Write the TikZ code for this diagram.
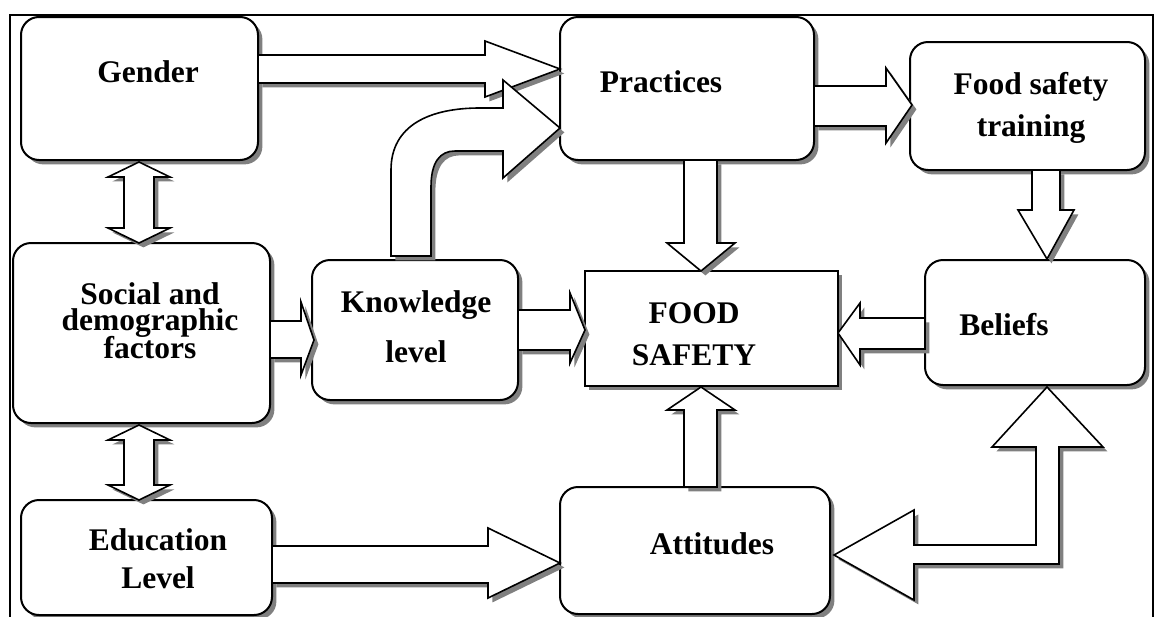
\documentclass[tikz,border=0pt]{standalone}
\usepackage{fontspec}
\setmainfont{Liberation Serif}
\usetikzlibrary{shadows,fit}
\begin{document}
\begin{tikzpicture}[x=0.5pt,y=-0.5pt,
  shadowed/.style={drop shadow={shadow xshift=2.2pt,shadow yshift=-2.2pt,fill=black!50,opacity=1}},
  box/.style={draw=black,line width=1pt,fill=white,rounded corners=9pt,inner sep=0pt,outer sep=0pt,shadowed},
  sqbox/.style={draw=black,line width=1pt,fill=white,inner sep=0pt,outer sep=0pt,shadowed},
  blockarrow/.style={draw=black,line width=0.8pt,fill=white,line join=miter,shadowed},
  txt/.style={font=\fontsize{15.75}{18}\selectfont\bfseries,anchor=base,inner sep=0pt},
  frame/.style={draw=black,line width=1pt}]
\path[use as bounding box] (0,0) rectangle (1155,616);
% outer frame
\draw[frame] (10,620) -- (10,15) -- (1153,15) -- (1153,620);
% boxes
\node[box,fit={(21,17) (258,160)}] (gender) {};
\node[box,fit={(560,17) (814,160)}] (practices) {};
\node[box,fit={(910,42) (1145,170)}] (training) {};
\node[box,fit={(13,243) (270,423)}] (social) {};
\node[box,fit={(312,260) (518,400)}] (knowledge) {};
\node[sqbox,fit={(585,271) (838,386)}] (food) {};
\node[box,fit={(925,260) (1145,385)}] (beliefs) {};
\node[box,fit={(21,500) (272,615)}] (education) {};
\node[box,fit={(560,487) (830,614)}] (attitudes) {};
% texts
\node[txt] (tGender) at (148,82) {Gender};
\node[txt] (tPractices) at (661,92) {Practices};
\node[txt] (tTraining1) at (1031,94) {Food safety};
\node[txt] (tTraining2) at (1031,136) {training};
\node[txt] (tSocial1) at (150,304) {Social and};
\node[txt] (tSocial2) at (150,330) {demographic};
\node[txt] (tSocial3) at (150,358) {factors};
\node[txt] (tKnow1) at (416,312) {Knowledge};
\node[txt] (tKnow2) at (416,362) {level};
\node[txt] (tFood1) at (694,323) {FOOD};
\node[txt] (tFood2) at (694,365) {SAFETY};
\node[txt] (tBeliefs) at (1004,335) {Beliefs};
\node[txt] (tEdu1) at (158,550) {Education};
\node[txt] (tEdu2) at (158,588) {Level};
\node[txt] (tAtt) at (712,554) {Attitudes};
% block arrows
\filldraw[blockarrow] (258,55) -- (485,55) -- (485,41) -- (560,69) -- (485,97) -- (485,83) -- (258,83) -- cycle;
\filldraw[blockarrow] (814,86) -- (886,86) -- (886,68) -- (912,105) -- (886,143) -- (886,126) -- (814,126) -- cycle;
\filldraw[blockarrow] (270,321) -- (301,321) -- (301,302) -- (314,340) -- (301,375) -- (301,358) -- (270,358) -- cycle;
\filldraw[blockarrow] (518,310) -- (570,310) -- (570,293) -- (585,330) -- (570,363) -- (570,350) -- (518,350) -- cycle;
\filldraw[blockarrow] (925,318) -- (860,318) -- (860,303) -- (838,333) -- (860,365) -- (860,349) -- (925,349) -- cycle;
\filldraw[blockarrow] (272,546) -- (488,546) -- (488,528) -- (560,563) -- (488,598) -- (488,583) -- (272,583) -- cycle;
\filldraw[blockarrow] (684,160) -- (684,243) -- (667,243) -- (701,271) -- (735,243) -- (717,243) -- (717,160) -- cycle;
\filldraw[blockarrow] (1032,170) -- (1032,210) -- (1018,210) -- (1047,259) -- (1074,210) -- (1060,210) -- (1060,170) -- cycle;
\filldraw[blockarrow] (684,487) -- (684,410) -- (667,410) -- (701,387) -- (735,410) -- (717,410) -- (717,487) -- cycle;
\filldraw[blockarrow] (139,162) -- (170,177) -- (154,177) -- (154,228) -- (170,228) -- (139,243) -- (108,228) -- (124,228) -- (124,177) -- (108,177) -- cycle;
\filldraw[blockarrow] (139,425) -- (170,440) -- (154,440) -- (154,485) -- (170,485) -- (139,500) -- (108,485) -- (124,485) -- (124,440) -- (108,440) -- cycle;
\filldraw[blockarrow] (1047,387) -- (1103,447) -- (1059,447) -- (1059,564) -- (914,564) -- (914,600) -- (834,555) -- (914,510) -- (914,545) -- (1036,545) -- (1036,447) -- (992,447) -- cycle;
\filldraw[blockarrow] (391,256) -- (391,170) .. controls (391,125) and (430,108) .. (480,108) -- (503,108) -- (503,80) -- (560,128) -- (503,178) -- (503,151) -- (455,151) .. controls (440,151) and (431,162) .. (431,187) -- (431,256) -- cycle;
\end{tikzpicture}
\end{document}
